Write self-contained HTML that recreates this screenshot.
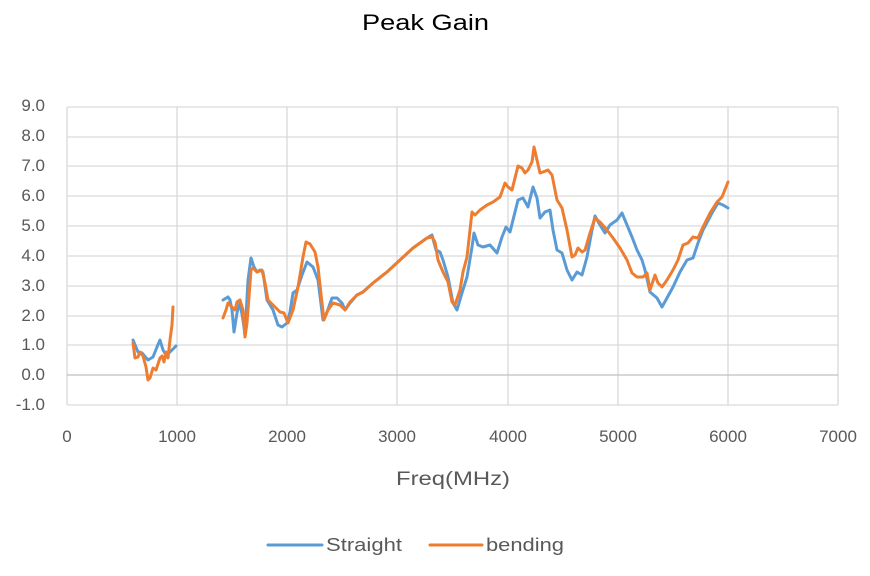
<!DOCTYPE html>
<html><head><meta charset="utf-8"><style>
body{margin:0;background:#fff}
svg{display:block;font-family:"Liberation Sans",sans-serif}
</style></head><body>
<svg width="870" height="576" viewBox="0 0 870 576" xmlns="http://www.w3.org/2000/svg">
<rect width="870" height="576" fill="#fff"/>
<text x="362" y="30" font-size="22" fill="#000" textLength="127" lengthAdjust="spacingAndGlyphs">Peak Gain</text>
<g stroke="#d9d9d9" stroke-width="1.3" fill="none">
<path d="M67 107H838M67 137H838M67 166H838M67 196H838M67 226H838M67 256H838M67 286H838M67 316H838M67 345H838M67 405H838"/>
<path d="M67 107V405M177 107V405M287 107V405M397 107V405M508 107V405M618 107V405M728 107V405M838 107V405"/>
</g>
<path d="M67 375H838" stroke="#bfbfbf" stroke-width="1.3"/>
<g font-size="17" fill="#595959" text-anchor="end">
<text x="45" y="111">9.0</text><text x="45" y="141">8.0</text><text x="45" y="171">7.0</text><text x="45" y="201">6.0</text><text x="45" y="231">5.0</text><text x="45" y="261">4.0</text><text x="45" y="291">3.0</text><text x="45" y="321">2.0</text><text x="45" y="350">1.0</text><text x="45" y="380">0.0</text><text x="45" y="410">-1.0</text>
</g>
<g font-size="17" fill="#595959" text-anchor="middle">
<text x="67" y="442">0</text><text x="177" y="442">1000</text><text x="287" y="442">2000</text><text x="397" y="442">3000</text><text x="508" y="442">4000</text><text x="618" y="442">5000</text><text x="728" y="442">6000</text><text x="838" y="442">7000</text>
</g>
<text x="396" y="485" font-size="19" fill="#595959" textLength="114" lengthAdjust="spacingAndGlyphs">Freq(MHz)</text>
<g fill="none" stroke-width="3" stroke-linejoin="round" stroke-linecap="round">
<g stroke="#5b9bd5">
<polyline points="133,340 138,352 142,353 148,360 153,357 157,347 160,340 163,350 166,355 170,352 174,348 176,346"/>
<polyline points="223,300 228,297 230,300 232,310 234,332 237,313 240,303 243,320 245,335 248,280 251,258 254,267 257,272 260,270 263,272 267,300 273,310 278,325 282,327 287,323 290,312 293,293 297,290 302,275 307,262 313,267 318,280 323,320 327,312 332,298 337,298 342,303 345,310 350,303 357,295 363,292 373,283 387,272 400,260 413,248 427,238 432,235 436,250 440,252 443,260 448,277 453,303 457,310 462,293 467,277 472,247 474,233 478,245 483,247 490,245 497,253 502,237 506,227 510,232 515,212 518,200 523,198 528,207 533,187 537,198 540,218 545,212 550,210 553,230 557,250 562,253 567,270 572,280 577,272 582,275 587,257 592,230 595,216 600,225 605,233 610,225 617,220 622,213 627,225 632,237 637,250 642,260 645,270 650,292 657,298 662,307 667,298 673,287 680,272 687,260 693,258 698,243 703,230 712,213 718,203 723,205 728,208"/>
</g>
<g stroke="#ed7d31">
<polyline points="133,343 135,358 138,357 140,352 143,356 146,367 148,380 150,378 153,368 156,370 158,364 160,358 162,356 164,362 166,352 168,358 170,340 172,325 173,307"/>
<polyline points="223,318 226,310 228,303 232,307 235,310 237,302 240,300 243,310 245,337 247,323 251,270 253,268 257,272 262,270 265,283 268,300 273,305 280,312 284,313 288,323 293,310 298,287 303,257 306,242 310,244 315,252 318,267 322,303 324,320 328,310 333,303 340,305 345,310 350,302 357,295 363,292 373,283 387,272 400,260 413,248 427,238 432,237 435,242 438,260 443,272 448,282 452,302 455,305 460,290 463,272 467,257 472,212 475,215 480,210 487,205 493,202 500,197 505,183 508,187 512,190 515,178 518,166 522,168 525,173 528,170 532,162 534,147 537,160 540,173 543,172 548,170 552,175 557,200 562,208 567,230 572,257 575,255 578,248 582,252 585,250 590,233 595,218 600,222 607,230 613,238 620,248 627,260 632,273 637,277 643,277 647,273 650,290 655,275 658,283 662,287 667,280 673,270 678,260 683,245 688,243 693,237 698,238 703,227 710,213 717,202 722,197 728,182"/>
</g>
<line x1="268" y1="545" x2="322" y2="545" stroke="#5b9bd5"/>
<line x1="430" y1="545" x2="482" y2="545" stroke="#ed7d31"/>
</g>
<g font-size="18" fill="#595959">
<text x="326" y="551" textLength="76" lengthAdjust="spacingAndGlyphs">Straight</text>
<text x="486" y="551" textLength="78" lengthAdjust="spacingAndGlyphs">bending</text>
</g>
</svg>
</body></html>
